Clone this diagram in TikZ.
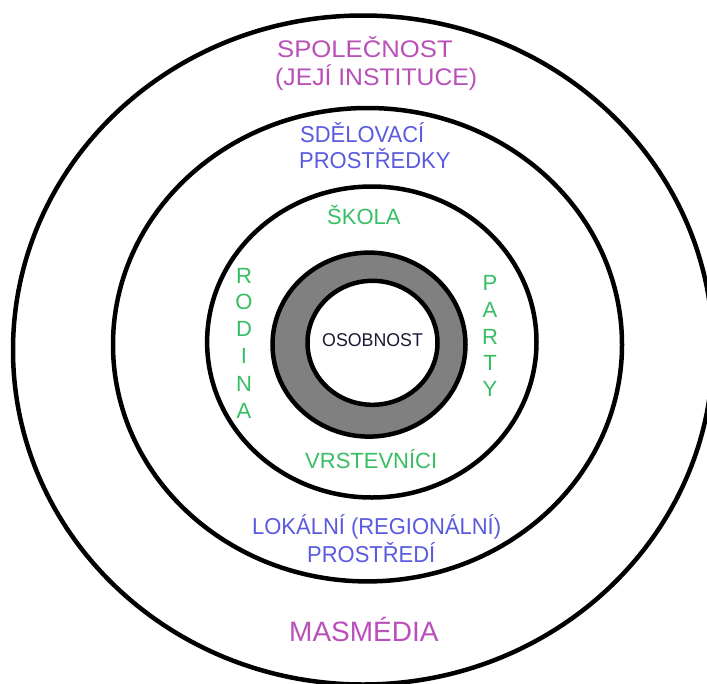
\documentclass[tikz,border=0pt]{standalone}
\usepackage{fontspec}
\setmainfont{Liberation Sans}
\definecolor{cPurple}{RGB}{185,80,185}
\definecolor{cBlue}{RGB}{90,90,225}
\definecolor{cGreen}{RGB}{55,190,100}
\definecolor{cDark}{RGB}{25,25,50}
\definecolor{cRing}{RGB}{128,128,128}
\begin{document}
\begin{tikzpicture}[x=1pt,y=-1pt,
  circ/.style={line width=4.5pt, draw=black},
  lbl/.style={inner sep=0pt, anchor=base west},
  vlet/.style={inner sep=0pt, anchor=base, text=cGreen, font=\fontsize{22}{26}\selectfont},
  purpleTxt/.style={text=cPurple},
  blueTxt/.style={text=cBlue, font=\fontsize{23}{27}\selectfont, xscale=0.955},
  greenTxt/.style={text=cGreen, font=\fontsize{22}{26}\selectfont}]
\useasboundingbox (0,0) rectangle (707,683);
\fill[white] (0,0) rectangle (707,683);
\clip (0,0) rectangle (707,683);
% circles
\draw[circ] (363,350) ellipse [x radius=350pt, y radius=334.5pt];
\draw[circ] (367.5,344.7) ellipse [x radius=254.5pt, y radius=236.7pt];
\draw[circ] (371.8,342) ellipse [x radius=164.7pt, y radius=155.5pt];
\draw[circ, fill=cRing] (369,344.6) ellipse [x radius=96.5pt, y radius=92pt];
\draw[circ, fill=white] (372.5,342.8) ellipse [x radius=65pt, y radius=62pt];
% texts
\node[lbl, purpleTxt, font=\fontsize{24}{28}\selectfont, xscale=1.07] (spol) at (277,57.3) {SPOLEČNOST};
\node[lbl, purpleTxt, font=\fontsize{24}{28}\selectfont, xscale=1.03] (inst) at (275,85) {(JEJÍ INSTITUCE)};
\node[lbl, blueTxt] (sdel) at (300,142) {SDĚLOVACÍ};
\node[lbl, blueTxt] (prostr) at (299,168) {PROSTŘEDKY};
\node[lbl, greenTxt] (skola) at (327,224) {ŠKOLA};
\node[vlet] (r1) at (244,283) {R};
\node[vlet] (r2) at (244,309) {O};
\node[vlet] (r3) at (244,336) {D};
\node[vlet] (r4) at (244,363.5) {I};
\node[vlet] (r5) at (244,391) {N};
\node[vlet] (r6) at (244,418) {A};
\node[vlet] (p1) at (490,290) {P};
\node[vlet] (p2) at (490,317) {A};
\node[vlet] (p3) at (490,344) {R};
\node[vlet] (p4) at (490,370.5) {T};
\node[vlet] (p5) at (490,396.5) {Y};
\node[lbl, text=cDark, font=\fontsize{18.5}{22}\selectfont, xscale=0.96] (osob) at (322,346.7) {OSOBNOST};
\node[lbl, greenTxt] (vrst) at (305,468) {VRSTEVNÍCI};
\node[lbl, blueTxt] (lok) at (252,534.3) {LOKÁLNÍ (REGIONÁLNÍ)};
\node[lbl, blueTxt] (prostredi) at (307,562) {PROSTŘEDÍ};
\node[lbl, purpleTxt, font=\fontsize{28}{32}\selectfont] (masm) at (289,641.7) {MASMÉDIA};
\end{tikzpicture}
\end{document}
